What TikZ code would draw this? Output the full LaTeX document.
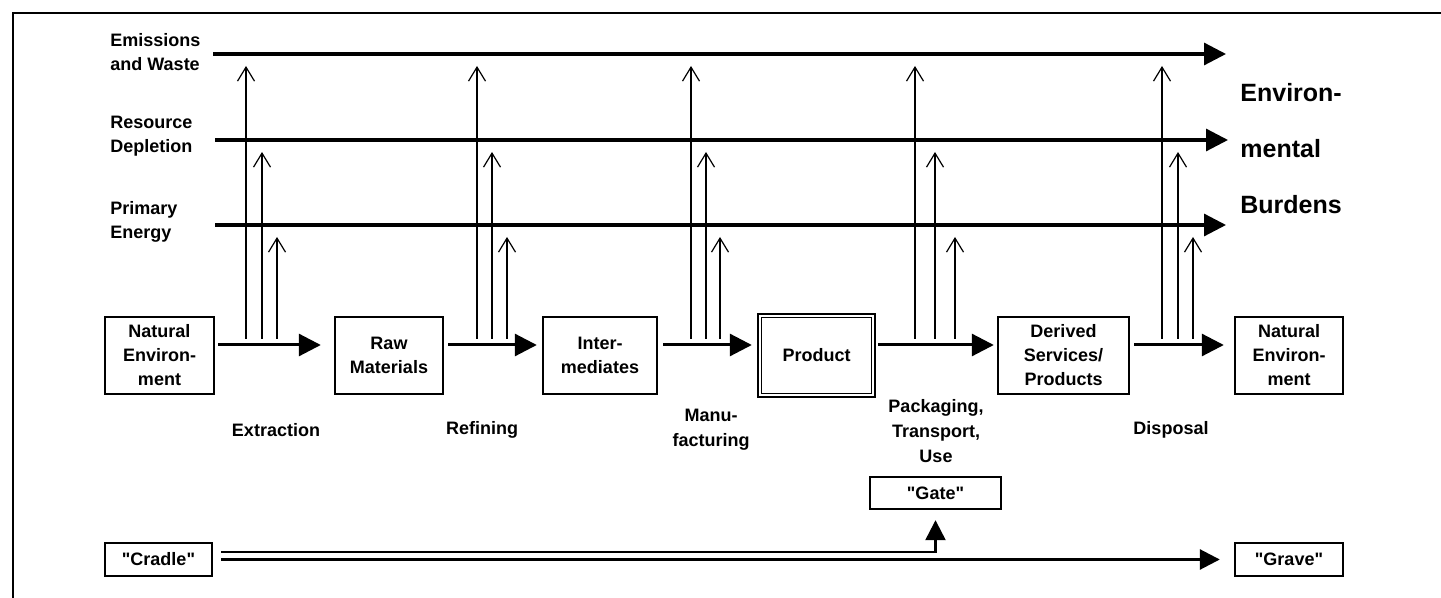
\documentclass[tikz,border=0pt]{standalone}
\usepackage{fontspec}
\setmainfont{Liberation Sans}[Ligatures=TeXOff]
\usetikzlibrary{arrows.meta,calc}
\begin{document}
\begin{tikzpicture}[x=0.5pt,y=-0.5pt,
  box/.style={draw,line width=1.2pt,align=center,font=\bfseries\fontsize{9}{12}\selectfont,minimum height=38.5pt,inner sep=0pt},
  tagbox/.style={draw,line width=1.2pt,align=center,font=\bfseries\fontsize{9}{12}\selectfont,minimum height=16.5pt,inner sep=0pt},
  lbl/.style={anchor=west,align=left,font=\bfseries\fontsize{9}{12}\selectfont,inner sep=0pt},
  proc/.style={align=center,font=\bfseries\fontsize{9}{12.3}\selectfont,inner sep=0pt},
  flow/.style={line width=1.5pt,-{Triangle[length=11pt,width=11pt]}},
  burden/.style={line width=1.6pt,-{Triangle[length=11pt,width=11pt]}},
  rise/.style={line width=0.6pt,-{Straight Barb[length=7pt,width=8.5pt,line width=0.6pt]}},
  cgline/.style={line width=1.2pt,-{Triangle[length=10pt,width=10pt]}},
]
\useasboundingbox (0,0) rectangle (1441,598);
% frame
\draw[line width=0.8pt] (13,598) -- (13,13) -- (1441,13);

% burden lines
\coordinate (e0) at (213,54);  \coordinate (e1) at (1226,54);
\coordinate (r0) at (215,140); \coordinate (r1) at (1228,140);
\coordinate (p0) at (215,225); \coordinate (p1) at (1226,225);
\draw[burden] (e0) -- (e1);
\draw[burden] (r0) -- (r1);
\draw[burden] (p0) -- (p1);

\node[lbl] (lem) at (110,52) {Emissions\\and Waste};
\node[lbl] (lres) at (110,136.5) {Resource\\Depletion};
\node[lbl] (lpri) at (110,221.5) {Primary\\Energy};
\node[anchor=west,align=left,inner sep=0pt,font=\bfseries\fontsize{12.5}{28}\selectfont] (envb) at (1240,149) {Environ-\\mental\\Burdens};

% process boxes
\node[box,minimum width=54.5pt] (ne1) at (159.5,355.5) {Natural\\Environ-\\ment};
\node[box,minimum width=54pt] (raw) at (389,355.5) {Raw\\Materials};
\node[box,minimum width=57pt] (inter) at (600,355.5) {Inter-\\mediates};
\node[box,draw=none,minimum width=55.5pt] (prod) at (816.5,355.5) {Product};
\draw[line width=0.8pt,double,double distance=1pt] (prod.south west) rectangle (prod.north east);
\node[box,minimum width=65.5pt] (der) at (1063.5,355.5) {Derived\\Services/\\Products};
\node[box,minimum width=54pt] (ne2) at (1289,355.5) {Natural\\Environ-\\ment};

% flow arrows
\draw[flow,shorten <=1.5pt,shorten >=6.5pt] ([yshift=5.25pt]ne1.east) -- ([yshift=5.25pt]raw.west);
\draw[flow,shorten <=2pt,shorten >=2.5pt] ([yshift=5.25pt]raw.east) -- ([yshift=5.25pt]inter.west);
\draw[flow,shorten <=2.5pt,shorten >=4pt] ([yshift=5.25pt]inter.east) -- ([yshift=5.25pt]prod.west);
\draw[flow,shorten <=2.5pt,shorten >=1.5pt] ([yshift=5.25pt]prod.east) -- ([yshift=5.25pt]der.west);
\draw[flow,shorten <=2pt,shorten >=5pt] ([yshift=5.25pt]der.east) -- ([yshift=5.25pt]ne2.west);

% rising arrows
\foreach \a/\b/\c [count=\i] in {246/262/277, 477/492/507, 691/706/720, 915/935/955, 1162/1178/1193}{
  \coordinate (ba\i) at (\a,339); \coordinate (ta\i) at (\a,66);
  \coordinate (bb\i) at (\b,339); \coordinate (tb\i) at (\b,152);
  \coordinate (bc\i) at (\c,339); \coordinate (tc\i) at (\c,237);
  \draw[rise] (ba\i) -- (ta\i);
  \draw[rise] (bb\i) -- (tb\i);
  \draw[rise] (bc\i) -- (tc\i);
}

% process labels
\node[proc] (lext) at (276,430) {Extraction};
\node[proc] (lref) at (482,430) {Refining};
\node[proc] (lman) at (711,430) {Manu-\\facturing};
\node[proc] (lpack) at (936,431) {Packaging,\\Transport,\\Use};
\node[proc] (ldis) at (1171,430) {Disposal};

% cradle / gate / grave
\node[tagbox,minimum width=53.5pt] (cradle) at (158.5,559.5) {"Cradle"};
\node[tagbox,minimum width=65.5pt,minimum height=16pt] (gate) at (935.5,493) {"Gate"};
\node[tagbox,minimum width=54pt] (grave) at (1289,559.5) {"Grave"};

\draw[cgline,shorten <=4pt,shorten >=5pt] ([yshift=3.75pt]cradle.east) -| (gate.south);
\draw[cgline,line width=1.4pt,shorten <=4pt,shorten >=7pt] (cradle.east) -- (grave.west);
\end{tikzpicture}
\end{document}
